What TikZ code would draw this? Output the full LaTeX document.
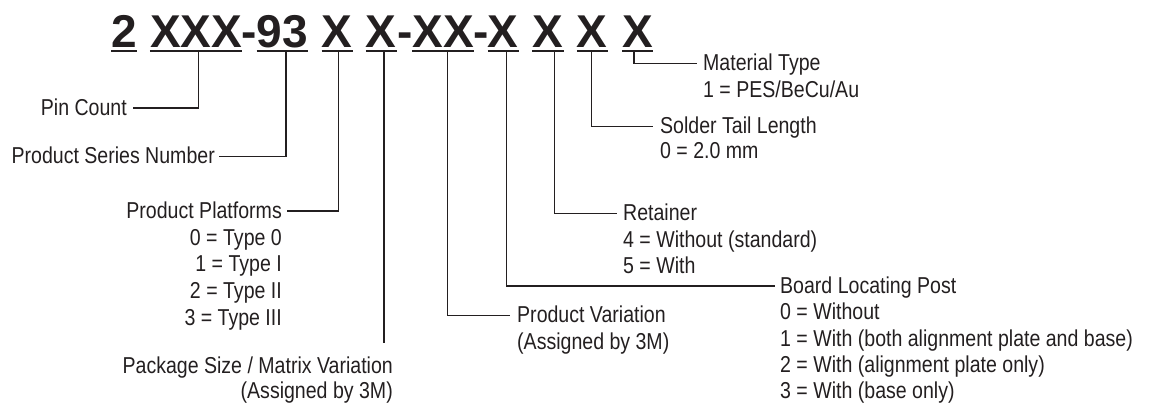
\documentclass[tikz,border=0pt]{standalone}
\usepackage{fontspec}
\setmainfont{Liberation Sans}[FakeStretch=0.85]
\newfontfamily\hdrfont{Liberation Sans}
\newcommand\lblfont{\fontsize{23}{26.7}\selectfont}
\definecolor{ink}{RGB}{35,31,32}
\begin{document}
\begin{tikzpicture}[x=1pt,y=-1pt,
  lbl/.style={inner sep=0pt, font=\lblfont, text=ink},
  ttl/.style={lbl, inner xsep=6pt, text height=15pt, text depth=0pt},
  hdr/.style={inner sep=0pt, font=\hdrfont\bfseries\fontsize{46}{46}\selectfont, text=ink},
  uline/.style={line width=2pt, draw=ink},
  conn/.style={line width=1.2pt, draw=ink}]
\useasboundingbox (0,0) rectangle (1152,403);

% header
\node[hdr, anchor=base] (g1)  at (124.2,47.5) {2};
\node[hdr, anchor=base] (g2)  at (196.2,47.5) {XXX};
\node[hdr, anchor=base] (h1)  at (249.3,47.5) {-};
\node[hdr, anchor=base] (g3)  at (282.5,47.5) {93};
\node[hdr, anchor=base] (g4)  at (337.2,47.5) {X};
\node[hdr, anchor=base] (g5)  at (381.3,47.5) {X};
\node[hdr, anchor=base] (h2)  at (404.7,47.5) {-};
\node[hdr, anchor=base] (g6)  at (443.0,47.5) {XX};
\node[hdr, anchor=base] (h3)  at (480.8,47.5) {-};
\node[hdr, anchor=base] (g7)  at (503.3,47.5) {X};
\node[hdr, anchor=base] (g8)  at (548.0,47.5) {X};
\node[hdr, anchor=base] (g9)  at (592.3,47.5) {X};
\node[hdr, anchor=base] (g10) at (637.7,47.5) {X};
\foreach \g in {g1,g2,g3,g4,g5,g6,g7,g8,g9,g10}
  \draw[uline] ([yshift=-3.5pt]\g.base west) -- ([yshift=-3.5pt]\g.base east);

% connector starts
\coordinate (c2)  at (198.3,51);
\coordinate (c3)  at (286.0,51);
\coordinate (c4)  at (338.3,51);
\coordinate (c5)  at (384.0,51);
\coordinate (c6)  at (447.7,51);
\coordinate (c7)  at (506.7,51);
\coordinate (c8)  at (554.3,51);
\coordinate (c9)  at (591.7,51);
\coordinate (c10) at (634.0,51);
\coordinate (c5e) at (384.0,343);

% left labels
\node[ttl, anchor=base east] (pin) at (133,115.5) {Pin Count};
\node[ttl, inner xsep=3.5pt, anchor=base east] (psn) at (218.5,164) {Product Series Number};
\node[ttl, inner xsep=5pt, anchor=base east] (plat) at (287,218.5) {Product Platforms};
\node[lbl, anchor=base east] (plat0) at (282,245.5) {0 = Type 0};
\node[lbl, anchor=base east] (plat1) at (282,272) {1 = Type I};
\node[lbl, anchor=base east] (plat2) at (282,299) {2 = Type II};
\node[lbl, anchor=base east] (plat3) at (282,325.5) {3 = Type III};
\node[lbl, anchor=base east] (pkg) at (393,373.5) {Package Size / Matrix Variation};
\node[lbl, anchor=base east] (pkg2) at (393,399) {(Assigned by 3M)};

% right labels
\node[ttl, inner xsep=7pt, anchor=base west] (pvar) at (510,323) {Product Variation};
\node[lbl, anchor=base west] (pvar2) at (517,350) {(Assigned by 3M)};
\node[ttl, inner xsep=5pt, anchor=base west] (brd) at (775,293.5) {Board Locating Post};
\node[lbl, anchor=base west] (brd0) at (780,320) {0 = Without};
\node[lbl, anchor=base west] (brd1) at (780,346.5) {1 = With (both alignment plate and base)};
\node[lbl, anchor=base west] (brd2) at (780,373) {2 = With (alignment plate only)};
\node[lbl, anchor=base west] (brd3) at (780,399) {3 = With (base only)};
\node[ttl, anchor=base west] (ret) at (617,221) {Retainer};
\node[lbl, anchor=base west] (ret4) at (623,248) {4 = Without (standard)};
\node[lbl, anchor=base west] (ret5) at (623,274) {5 = With};
\node[ttl, inner xsep=7pt, anchor=base west] (sol) at (653,134) {Solder Tail Length};
\node[lbl, anchor=base west] (sol0) at (660,158.5) {0 = 2.0 mm};
\node[ttl, anchor=base west] (mat) at (697,71) {Material Type};
\node[lbl, anchor=base west] (mat1) at (703,98) {1 = PES/BeCu/Au};

% connectors
\draw[conn] (c2) |- (pin.east);
\draw[conn] (c3) |- (psn.east);
\draw[conn] (c4) |- (plat.east);
\draw[conn] (c5) -- (c5e);
\draw[conn] (c6) |- (pvar.west);
\draw[conn] (c7) |- (brd.west);
\draw[conn] (c8) |- (ret.west);
\draw[conn] (c9) |- (sol.west);
\draw[conn] (c10) |- (mat.west);
\end{tikzpicture}
\end{document}
